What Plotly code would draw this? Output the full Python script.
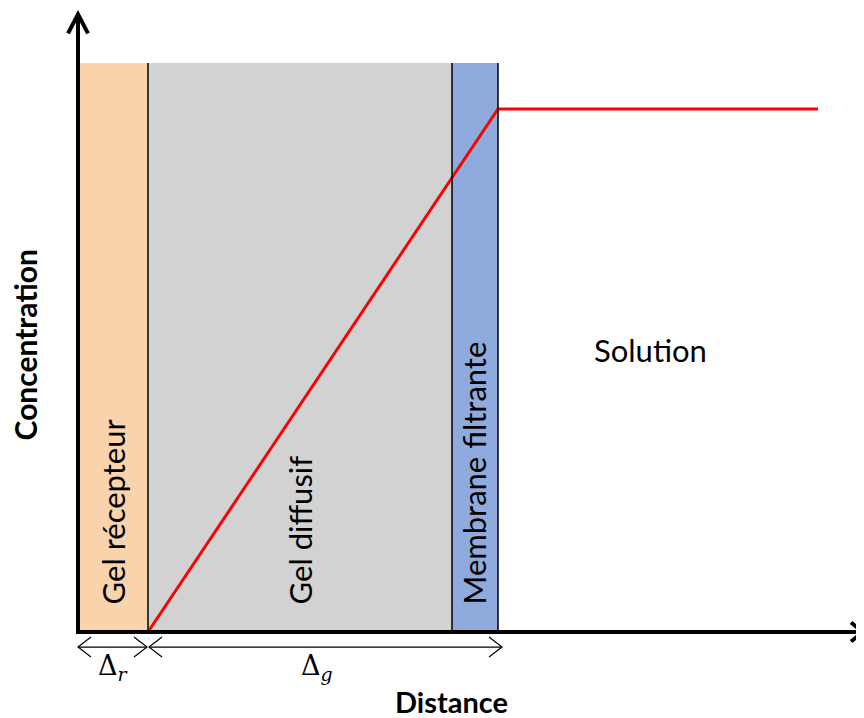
import plotly.graph_objects as go

# ---- data (distance units / relative concentration) ----
layer_names = ["Gel récepteur", "Gel diffusif", "Membrane filtrante"]
layer_edges = [0.0, 0.70, 3.74, 4.20]
layer_colors = ["#F8D3AB", "#D2D2D2", "#8FAADC"]
layer_top = 1.088
solution_label = "Solution"
solution_end = 7.40
conc_x = [0.70, 4.20, 7.40]
conc_y = [0.0, 1.0, 1.0]
delta_labels = ["Δ<sub><i>r</i></sub>", "Δ<sub><i>g</i></sub>"]
delta_spans = [(0.0, 0.69), (0.71, 4.24)]
x_title = "Distance"
y_title = "Concentration"

# axis ranges (page has an 8px body margin, so the figure starts at page pixel 8)
X_RANGE = [-0.70, 7.86]
Y_RANGE = [-0.1644, 1.1931]
W, H = 856, 710
SX = W / (X_RANGE[1] - X_RANGE[0])
SY = H / (Y_RANGE[1] - Y_RANGE[0])

FONT = "Lato, 'Open Sans', sans-serif"

fig = go.Figure()

shapes = []
# layers
for i in range(3):
    shapes.append(dict(type="rect", xref="x", yref="y",
                       x0=layer_edges[i], x1=layer_edges[i + 1], y0=0, y1=layer_top,
                       fillcolor=layer_colors[i], line=dict(width=0), layer="below"))
# boundary lines
for xe in layer_edges[1:]:
    shapes.append(dict(type="line", xref="x", yref="y", x0=xe, x1=xe, y0=0, y1=layer_top,
                       line=dict(color="black", width=1.5)))


def arrow_head(xt, yt, direction, length_px, half_px, width):
    # direction: 'up', 'right', 'left'
    if direction == "up":
        a = (xt - half_px / SX, yt - length_px / SY)
        b = (xt + half_px / SX, yt - length_px / SY)
    elif direction == "right":
        a = (xt - length_px / SX, yt + half_px / SY)
        b = (xt - length_px / SX, yt - half_px / SY)
    else:
        a = (xt + length_px / SX, yt + half_px / SY)
        b = (xt + length_px / SX, yt - half_px / SY)
    path = f"M {a[0]},{a[1]} L {xt},{yt} L {b[0]},{b[1]}"
    return dict(type="path", xref="x", yref="y", path=path,
                line=dict(color="black", width=width))


# main axes
y_top = 1.181
x_right = 7.85
shapes.append(dict(type="line", xref="x", yref="y", x0=0, x1=0, y0=-0.004, y1=y_top,
                   line=dict(color="black", width=4)))
shapes.append(dict(type="line", xref="x", yref="y", x0=-0.02, x1=x_right, y0=0, y1=0,
                   line=dict(color="black", width=4)))
shapes.append(arrow_head(0, y_top, "up", 19, 10, 4))
shapes.append(arrow_head(x_right, 0, "right", 12, 9.5, 4))

# delta arrows
y_delta = -0.0287
for (x0, x1) in delta_spans:
    shapes.append(dict(type="line", xref="x", yref="y", x0=x0, x1=x1, y0=y_delta, y1=y_delta,
                       line=dict(color="black", width=1.2)))
    shapes.append(arrow_head(x0, y_delta, "left", 13, 10, 1.2))
    shapes.append(arrow_head(x1, y_delta, "right", 13, 10, 1.2))

# concentration profile
fig.add_trace(go.Scatter(x=conc_x, y=conc_y, mode="lines",
                         line=dict(color="#FF0000", width=3), hoverinfo="skip",
                         showlegend=False))

annotations = []
# layer labels (rotated)
label_x = [0.345, 2.22, 3.96]
for name, lx in zip(layer_names, label_x):
    annotations.append(dict(x=lx, y=0.048, xref="x", yref="y", text=name, textangle=-90,
                            showarrow=False, xanchor="center", yanchor="bottom",
                            font=dict(family=FONT, size=31, color="black")))
annotations.append(dict(x=5.72, y=0.540, xref="x", yref="y",
                        text=solution_label, showarrow=False,
                        font=dict(family=FONT, size=31, color="black")))
# delta labels
for (x0, x1), lab, dxo in zip(delta_spans, delta_labels, [0.0, -0.09]):
    annotations.append(dict(x=(x0 + x1) / 2 + dxo, y=-0.068, xref="x", yref="y", text=lab,
                            showarrow=False,
                            font=dict(family="'DejaVu Serif', serif", size=27, color="black")))
# axis titles
annotations.append(dict(x=3.73, y=-0.1335, xref="x", yref="y", text=f"<b>{x_title}</b>",
                        showarrow=False, font=dict(family=FONT, size=29, color="black")))
annotations.append(dict(x=-0.53, y=0.548, xref="x", yref="y", text=f"<b>{y_title}</b>",
                        textangle=-90, showarrow=False,
                        font=dict(family=FONT, size=30, color="black")))

fig.update_layout(
    width=W, height=H,
    margin=dict(l=0, r=0, t=0, b=0),
    paper_bgcolor="white", plot_bgcolor="white",
    xaxis=dict(range=X_RANGE, visible=False, fixedrange=True),
    yaxis=dict(range=Y_RANGE, visible=False, fixedrange=True),
    shapes=shapes, annotations=annotations, showlegend=False,
)

fig.write_html("out.html")
